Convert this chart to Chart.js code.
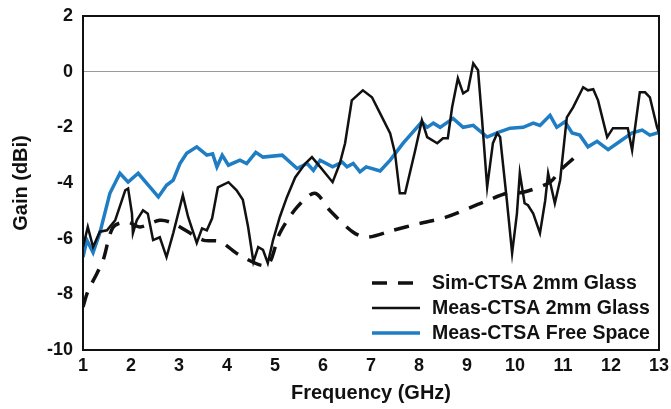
<!DOCTYPE html>
<html>
<head>
<meta charset="utf-8">
<script src="https://cdn.jsdelivr.net/npm/chart.js@4/dist/chart.umd.min.js"></script>
<style>
  html, body { margin: 0; padding: 0; background: #fff; }
  #wrap { width: 671px; height: 409px; }
</style>
</head>
<body>
<div id="wrap"><canvas id="gain"></canvas></div>
<script>
// gain vs frequency, three curves
var seriesNames = ['Sim-CTSA 2mm Glass', 'Meas-CTSA 2mm Glass', 'Meas-CTSA Free Space']
var yTicks = [-10, -8, -6, -4, -2, 0, 2]

var simFreq = [1.0, 1.1, 1.29, 1.42, 1.63, 1.92, 2.19, 2.6, 2.88, 3.5, 3.85, 4.27, 4.83, 5.1, 5.46, 5.83, 6.15, 6.63, 6.92, 7.46, 8.02, 8.58, 9.33, 9.83, 10.17, 10.73, 10.94, 11.25]
var simGain = [-8.45, -7.9, -7.25, -6.77, -5.58, -5.4, -5.58, -5.34, -5.45, -6.05, -6.1, -6.6, -6.95, -5.8, -4.87, -4.37, -5.0, -5.77, -5.95, -5.7, -5.45, -5.22, -4.7, -4.37, -4.33, -3.97, -3.55, -3.07]

var glassFreq = [1.0, 1.1, 1.21, 1.35, 1.5, 1.67, 1.88, 1.94, 2.02, 2.04, 2.12, 2.25, 2.35, 2.46, 2.6, 2.74, 2.88, 3.08, 3.19, 3.37, 3.48, 3.58, 3.69, 3.81, 4.03, 4.2, 4.33, 4.44, 4.55, 4.65, 4.75, 4.85, 4.96, 5.1, 5.25, 5.42, 5.63, 5.77, 5.94, 6.2, 6.35, 6.46, 6.6, 6.83, 7.02, 7.19, 7.4, 7.5, 7.6, 7.71, 7.92, 8.06, 8.17, 8.38, 8.5, 8.6, 8.69, 8.81, 8.92, 9.02, 9.13, 9.23, 9.31, 9.42, 9.54, 9.63, 9.69, 9.83, 9.94, 10.04, 10.1, 10.2, 10.27, 10.38, 10.52, 10.63, 10.69, 10.83, 10.94, 11.08, 11.21, 11.42, 11.52, 11.63, 11.73, 11.92, 12.04, 12.19, 12.35, 12.44, 12.5, 12.6, 12.71, 12.81, 12.96, 13.0]
var glassGain = [-6.3, -5.58, -6.3, -5.75, -5.7, -5.34, -4.26, -4.2, -5.1, -5.8, -5.34, -4.98, -5.1, -6.05, -5.95, -6.66, -5.8, -4.44, -5.22, -6.15, -5.63, -5.7, -5.27, -4.16, -3.97, -4.26, -4.6, -5.58, -6.83, -6.3, -6.4, -6.88, -6.05, -5.22, -4.5, -3.8, -3.3, -3.07, -3.42, -3.97, -3.3, -2.57, -1.03, -0.67, -0.92, -1.5, -2.22, -2.93, -4.37, -4.37, -2.83, -1.75, -2.35, -2.57, -2.39, -2.39, -1.28, -0.24, -0.78, -0.67, 0.3, 0.05, -1.64, -4.15, -2.57, -2.21, -2.35, -4.62, -6.52, -5.1, -3.65, -4.73, -4.8, -5.1, -5.8, -4.62, -3.65, -4.73, -3.9, -1.64, -1.28, -0.56, -0.67, -0.63, -1.03, -2.35, -2.03, -2.03, -2.03, -2.82, -2.03, -0.74, -0.74, -0.92, -2.0, -2.18]

var freeFreq = [1.0, 1.08, 1.21, 1.35, 1.56, 1.77, 1.94, 2.15, 2.36, 2.57, 2.74, 2.88, 3.02, 3.16, 3.37, 3.58, 3.7, 3.79, 3.9, 4.03, 4.27, 4.41, 4.6, 4.75, 5.15, 5.46, 5.67, 5.8, 5.94, 6.2, 6.4, 6.5, 6.63, 6.77, 6.9, 7.19, 7.4, 7.67, 8.06, 8.17, 8.3, 8.44, 8.71, 8.92, 9.13, 9.42, 9.65, 9.9, 10.17, 10.38, 10.52, 10.73, 10.87, 11.04, 11.19, 11.35, 11.52, 11.71, 11.94, 12.19, 12.44, 12.65, 12.81, 13.0]
var freeGain = [-6.66, -6.05, -6.5, -5.8, -4.37, -3.65, -3.97, -3.65, -4.08, -4.5, -4.08, -3.9, -3.3, -2.93, -2.7, -3.0, -2.95, -3.42, -3.0, -3.36, -3.18, -3.3, -2.9, -3.07, -3.0, -3.48, -3.3, -3.55, -3.18, -3.42, -3.25, -3.42, -3.3, -3.6, -3.42, -3.57, -3.18, -2.57, -1.8, -2.0, -1.85, -2.0, -1.68, -2.0, -1.93, -2.35, -2.18, -2.03, -2.0, -1.85, -1.93, -1.57, -2.0, -1.8, -2.2, -2.28, -2.7, -2.5, -2.8, -2.5, -2.2, -2.1, -2.28, -2.18]

function pts(xs, ys) {
  return xs.map(function(x, i) { return {x: x, y: ys[i]} })
}

var fam = '"Liberation Sans", Arial, sans-serif'
var tickFont = {family: fam, weight: 'bold', size: 18}
var titleFont = {family: fam, weight: 'bold', size: 20}

// frame round the plot + legend inside the lower right corner
var framePlugin = {
  id: 'frame',
  afterDatasetsDraw: function(chart) {
    var c = chart.ctx, a = chart.chartArea
    c.save()
    // legend
    var lx = 372, ly = 283, gap = 25
    c.fillStyle = '#fff'
    c.fillRect(364, 268, a.right - 366, a.bottom - 269)
    c.font = 'bold 19.5px ' + fam
    c.textBaseline = 'middle'
    chart.data.datasets.forEach(function(ds, i) {
      var y = ly + i * gap
      c.strokeStyle = ds.borderColor
      c.lineWidth = ds.borderWidth
      c.setLineDash(ds.borderDash || [])
      c.beginPath()
      c.moveTo(lx, y)
      c.lineTo(lx + 48, y)
      c.stroke()
      c.setLineDash([])
      c.fillStyle = '#111'
      c.fillText(ds.label, 432, y + 1)
    })
    c.strokeStyle = '#111'
    c.lineWidth = 2
    c.strokeRect(a.left, a.top, a.right - a.left, a.bottom - a.top)
    c.restore()
  }
}

var ctx = document.getElementById('gain').getContext('2d')
var gainChart = new Chart(ctx, {
  type: 'line',
  data: {
    datasets: [{
      label: seriesNames[0],
      data: pts(simFreq, simGain),
      borderColor: '#111',
      borderWidth: 3.5,
      borderDash: [15, 11],
      tension: 0.3,
      pointRadius: 0
    }, {
      label: seriesNames[1],
      data: pts(glassFreq, glassGain),
      borderColor: '#111',
      borderWidth: 2.5,
      pointRadius: 0
    }, {
      label: seriesNames[2],
      data: pts(freeFreq, freeGain),
      borderColor: '#1f7dc4',
      borderWidth: 3.5,
      pointRadius: 0
    }]
  },
  options: {
    responsive: true,
    maintainAspectRatio: false,
    animation: false,
    layout: { padding: { left: 0, right: 12, top: 16, bottom: 0 } },
    plugins: {
      legend: { display: false },
      tooltip: { enabled: false }
    },
    scales: {
      x: {
        type: 'linear',
        min: 1,
        max: 13,
        afterFit: function(s) { s.height = 59; s.paddingRight = 0; s.paddingLeft = 0 },
        ticks: { stepSize: 1, color: '#111', font: tickFont, padding: 5, maxRotation: 0 },
        grid: { display: false, drawTicks: false },
        border: { display: false },
        title: { display: true, text: 'Frequency (GHz)', color: '#111', font: titleFont, padding: { top: 4 } }
      },
      y: {
        min: -10,
        max: 2,
        afterFit: function(s) { s.width = 83; s.paddingTop = 0; s.paddingBottom = 0 },
        afterBuildTicks: function(s) { s.ticks = yTicks.map(function(v) { return {value: v} }) },
        ticks: { color: '#111', font: tickFont, padding: 10 },
        grid: {
          drawTicks: false,
          color: function(c) { return c.tick && c.tick.value === 0 ? '#9a9a9a' : 'rgba(0,0,0,0)' },
          lineWidth: 1
        },
        border: { display: false },
        title: { display: true, text: 'Gain (dBi)', color: '#111', font: titleFont, padding: { top: 9, bottom: 4 } }
      }
    }
  },
  plugins: [framePlugin]
})
</script>
</body>
</html>
